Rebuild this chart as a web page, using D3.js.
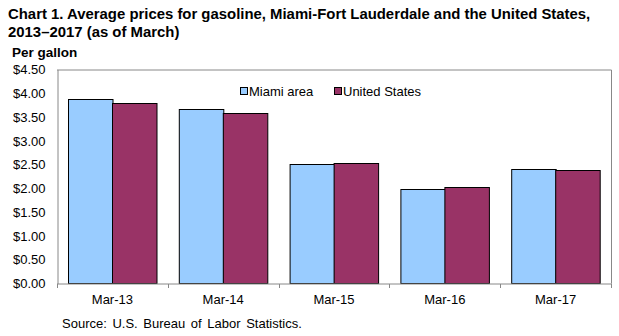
<!DOCTYPE html>
<html>
<head>
<meta charset="utf-8">
<script src="https://cdn.jsdelivr.net/npm/d3@7"></script>
<style>
  body { margin: 0; background: #fff; }
  svg { display: block; font-family: "Liberation Sans", Arial, sans-serif; }
</style>
</head>
<body>
<svg id="chart" width="619" height="336"></svg>
<script>
// Average gasoline prices per gallon, March of each year
const categories = ["Mar-13", "Mar-14", "Mar-15", "Mar-16", "Mar-17"];
const seriesNames = ["Miami area", "United States"];
const miamiValues = [3.89, 3.66, 2.52, 1.98, 2.40];
const usValues = [3.79, 3.58, 2.54, 2.02, 2.38];
const yTicks = [0, 0.5, 1, 1.5, 2, 2.5, 3, 3.5, 4, 4.5];
const seriesColors = ["#99CCFF", "#993366"];

const svg = d3.select("#chart");
const plot = { left: 57, right: 611, top: 69.5, bottom: 283.5 };

const x0 = d3.scaleBand().domain(categories).range([plot.left, plot.right]).paddingInner(0).paddingOuter(0);
const x1 = d3.scaleBand().domain(seriesNames).range([0, x0.bandwidth()]).paddingOuter(0.245).paddingInner(0);
const y = d3.scaleLinear().domain([0, 4.5]).range([plot.bottom, plot.top]);

// Title
const title = svg.append("text").attr("x", 8).attr("font-weight", "bold").attr("font-size", 14.9).attr("fill", "#000");
title.append("tspan").attr("x", 8).attr("y", 19).text("Chart 1. Average prices for gasoline, Miami-Fort Lauderdale and the United States,");
title.append("tspan").attr("x", 8).attr("y", 37).text("2013\u20132017  (as of March)");

svg.append("text").attr("x", 12).attr("y", 57).attr("font-weight", "bold").attr("font-size", 13.5).text("Per gallon");

// Plot frame (top and right edges)
svg.append("path")
  .attr("d", `M${plot.left},${plot.top + 0.5}H${plot.right + 0.5}V${plot.bottom}`)
  .attr("fill", "none").attr("stroke", "#888").attr("stroke-width", 1);

// Bars
const rows = categories.map((c, i) => ({ cat: c, vals: [miamiValues[i], usValues[i]] }));
const groups = svg.append("g").selectAll("g").data(rows).join("g")
  .attr("transform", d => `translate(${x0(d.cat)},0)`);
groups.selectAll("rect").data(d => d.vals.map((v, j) => ({ name: seriesNames[j], v, j })))
  .join("rect")
  .attr("x", d => Math.round(x1(d.name)) + 0.5)
  .attr("y", d => Math.round(y(d.v)) + 0.5)
  .attr("width", x1.bandwidth())
  .attr("height", d => plot.bottom - Math.round(y(d.v)) - 0.5)
  .attr("fill", d => seriesColors[d.j])
  .attr("stroke", "#000").attr("stroke-width", 1);

// Y axis
const yAxis = svg.append("g").attr("transform", `translate(${plot.left + 0.5},0)`)
  .call(d3.axisLeft(y).tickValues(yTicks).tickSize(0).tickPadding(12).tickFormat(d => "$" + d3.format(".2f")(d)));
yAxis.select(".domain").attr("stroke", "#888");
yAxis.selectAll("text").attr("font-size", 13).attr("fill", "#000").attr("font-family", "Liberation Sans, Arial, sans-serif");

// X axis with ticks at category boundaries
const xAxisG = svg.append("g").attr("transform", `translate(0,${plot.bottom + 0.5})`);
xAxisG.append("line").attr("x1", plot.left).attr("x2", plot.right + 1).attr("stroke", "#888");
const bounds = categories.map(c => x0(c)).concat([plot.right]);
xAxisG.selectAll("line.tick").data(bounds).join("line").attr("class", "tick")
  .attr("x1", d => Math.round(d) + 0.5).attr("x2", d => Math.round(d) + 0.5)
  .attr("y1", 0).attr("y2", 4).attr("stroke", "#888");
xAxisG.selectAll("text").data(categories).join("text")
  .attr("x", d => x0(d) + x0.bandwidth() / 2)
  .attr("y", 20).attr("text-anchor", "middle").attr("font-size", 13).attr("fill", "#000")
  .text(d => d);

// Legend
const legendPos = [240, 334];
const legend = svg.append("g").selectAll("g").data(seriesNames).join("g")
  .attr("transform", (d, i) => `translate(${legendPos[i]},87)`);
legend.append("rect").attr("x", 0.5).attr("y", 0.5).attr("width", 7).attr("height", 7)
  .attr("fill", (d, i) => seriesColors[i]).attr("stroke", "#000");
legend.append("text").attr("x", 9).attr("y", 8.5).attr("font-size", 13).text(d => d);

// Source note
svg.append("text").attr("x", 62).attr("y", 328).attr("font-size", 13).attr("word-spacing", 2).text("Source: U.S. Bureau of Labor Statistics.");
</script>
</body>
</html>
